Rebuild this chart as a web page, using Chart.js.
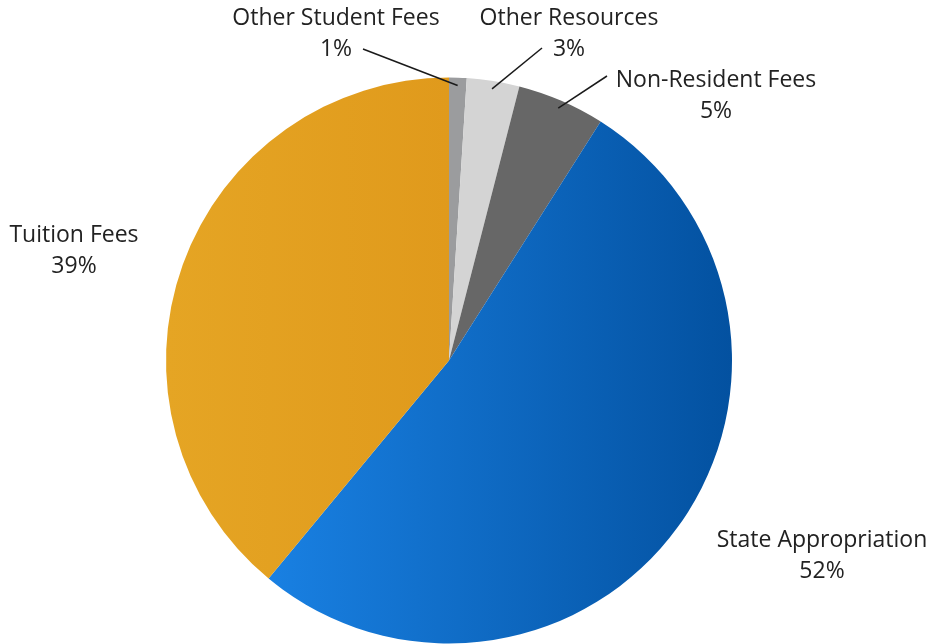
<!DOCTYPE html>
<html>
<head>
<meta charset="utf-8">
<script src="https://cdn.jsdelivr.net/npm/chart.js@4"></script>
<style>
  html, body { margin: 0; padding: 0; background: #ffffff; }
  #wrap { width: 933px; height: 644px; position: relative; }
</style>
</head>
<body>
<div id="wrap"><canvas id="c"></canvas></div>
<script>
// data, clockwise from 12 o'clock
var categories = ['Other Student Fees', 'Other Resources', 'Non-Resident Fees', 'State Appropriation', 'Tuition Fees'];
var shares = [1, 3, 5, 52, 39];

// where each label sits (text centre) and where its leader line starts
var labelSpots = [
    { x: 336, y: 18, line: [363, 49] },
    { x: 569, y: 18, line: [542, 48] },
    { x: 716, y: 80, line: [607, 76] },
    { x: 822, y: 540, line: null },
    { x: 74, y: 235, line: null }
];

var fontFamily = '"Open Sans", "DejaVu Sans", sans-serif';

sliceColor = function(context) {
    var idx = context.dataIndex;
    var chart = context.chart;
    var area = chart.chartArea;
    if (!area) return '#999';
    var ctx = chart.ctx;
    if (idx == 3) {
        var g = ctx.createLinearGradient(270, 0, area.right, 0);
        g.addColorStop(0, '#1980e2');
        g.addColorStop(1, '#0351a0');
        return g;
    }
    if (idx == 4) {
        var g2 = ctx.createLinearGradient(area.left, 0, 449, 0);
        g2.addColorStop(0, '#e5a524');
        g2.addColorStop(1, '#e09a1c');
        return g2;
    }
    return ['#9b9c9e', '#d4d4d4', '#676767'][idx];
}

var labelPlugin = {
    id: 'sliceLabels',
    afterDatasetsDraw: function(chart) {
        var ctx = chart.ctx;
        var meta = chart.getDatasetMeta(0);
        var total = shares.reduce(function(a, b) { return a + b; }, 0);
        ctx.save();
        ctx.font = '23px ' + fontFamily;
        ctx.fillStyle = '#222222';
        ctx.textAlign = 'center';
        ctx.textBaseline = 'middle';
        for (var i = 0; i < categories.length; i++) {
            var spot = labelSpots[i];
            var pct = Math.round(shares[i] / total * 100) + '%';
            ctx.fillText(categories[i], spot.x, spot.y);
            ctx.fillText(pct, spot.x, spot.y + 31);
            if (spot.line) {
                var arc = meta.data[i];
                var mid = (arc.startAngle + arc.endAngle) / 2;
                var r = arc.outerRadius * 0.972;
                ctx.beginPath();
                ctx.strokeStyle = '#1a1a1a';
                ctx.lineWidth = 1.5;
                ctx.moveTo(spot.line[0], spot.line[1]);
                ctx.lineTo(arc.x + Math.cos(mid) * r, arc.y + Math.sin(mid) * r);
                ctx.stroke();
            }
        }
        ctx.restore();
    }
};

var config = {
    type: 'pie',
    data: {
        labels: categories,
        datasets: [{
            data: shares,
            backgroundColor: sliceColor,
            borderWidth: 0
        }]
    },
    options: {
        responsive: true,
        maintainAspectRatio: false,
        animation: false,
        layout: { padding: { left: 166, right: 201, top: 77, bottom: 0 } },
        plugins: {
            legend: { display: false },
            tooltip: { enabled: false }
        }
    },
    plugins: [labelPlugin]
};

window.chart = new Chart(document.getElementById('c').getContext('2d'), config);
</script>
</body>
</html>
